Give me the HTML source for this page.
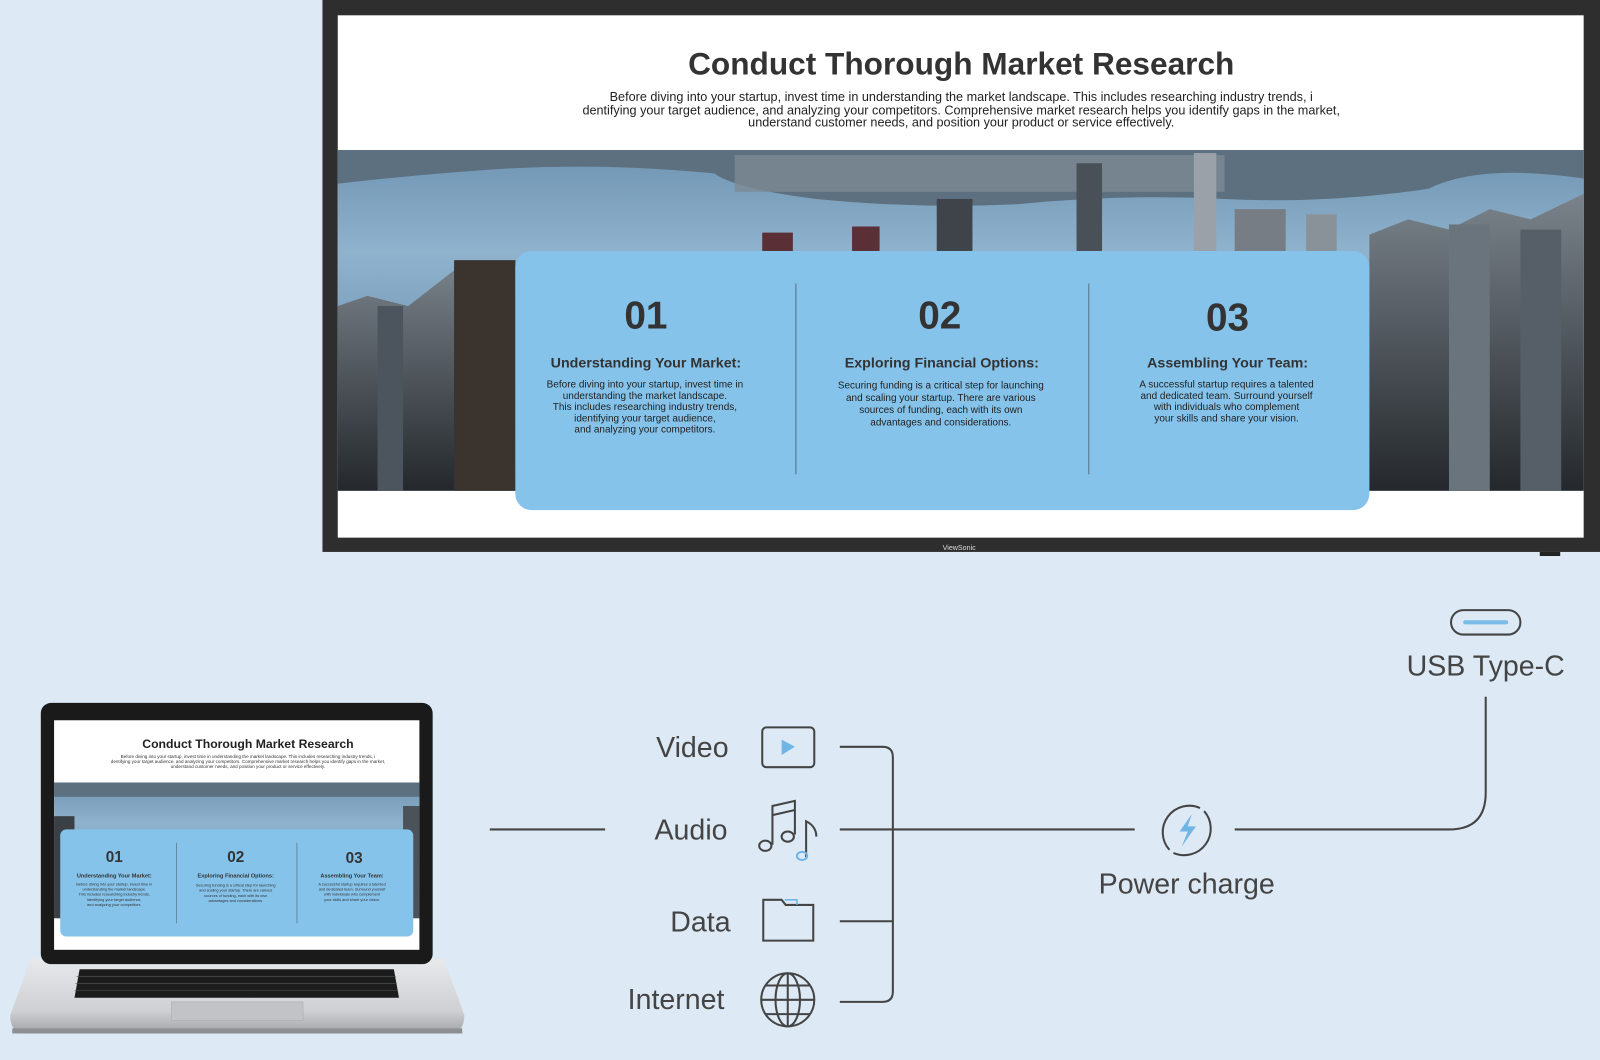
<!DOCTYPE html>
<html><head><meta charset="utf-8"><style>
html,body{margin:0;padding:0;background:#dde9f4;}
svg{display:block}
text{font-family:"Liberation Sans",sans-serif;}
</style></head><body>
<svg width="1600" height="1060" viewBox="0 0 1568 1039" preserveAspectRatio="none" xmlns="http://www.w3.org/2000/svg">
<defs>
<linearGradient id="water" x1="0" y1="0" x2="0" y2="1">
<stop offset="0" stop-color="#6f94b2"/><stop offset="0.3" stop-color="#8fb3cd"/><stop offset="0.7" stop-color="#6e92ae"/><stop offset="1" stop-color="#4c6b84"/>
</linearGradient>
<linearGradient id="city" x1="0" y1="0" x2="0" y2="1">
<stop offset="0" stop-color="#7a838b"/><stop offset="1" stop-color="#24282c"/>
</linearGradient>
<linearGradient id="silver" x1="0" y1="0" x2="0" y2="1">
<stop offset="0" stop-color="#e8e9eb"/><stop offset="0.7" stop-color="#cfd0d3"/><stop offset="1" stop-color="#a2a3a6"/>
</linearGradient>
</defs>
<rect width="1568" height="1039" fill="#dde9f4"/>

<!-- Monitor -->
<rect x="316" y="0" width="1252" height="541" fill="#2e2e2e"/>
<rect x="331" y="15" width="1221" height="512" fill="#fff"/>
<rect x="331" y="147" width="1221" height="334" fill="url(#water)"/>
<!-- far shore -->
<path d="M331 147 H1552 V175 Q1450 160 1400 185 Q1300 200 1200 195 Q1100 190 1000 200 Q900 205 800 195 Q720 185 700 170 Q600 160 500 165 Q420 170 331 180 Z" fill="#5d707f"/>
<rect x="720" y="152" width="480" height="36" fill="#7d8a93" opacity="0.8"/>
<rect x="1055" y="160" width="25" height="86" fill="#4a5058"/>
<rect x="1170" y="150" width="22" height="96" fill="#9aa1a8"/>
<rect x="1210" y="205" width="50" height="41" fill="#767d84"/>
<rect x="1280" y="210" width="30" height="36" fill="#8a9299"/>
<rect x="918" y="195" width="35" height="51" fill="#3e444a"/>
<rect x="747" y="228" width="30" height="18" fill="#5a3036"/>
<rect x="835" y="222" width="27" height="24" fill="#5a3036"/>
<!-- buildings left -->
<path d="M331 300 L360 290 L400 300 L445 265 L505 255 V481 H331 Z" fill="url(#city)"/>
<rect x="445" y="255" width="60" height="226" fill="#3a332e"/>
<rect x="370" y="300" width="25" height="181" fill="#4c555d"/>
<!-- buildings right -->
<path d="M1342 230 L1380 215 L1420 225 L1460 205 L1500 215 L1552 190 V481 H1342 Z" fill="url(#city)"/>
<rect x="1420" y="220" width="40" height="261" fill="#6a747d"/>
<rect x="1490" y="225" width="40" height="256" fill="#565f68"/>
<!-- blue panel -->
<rect x="505" y="246" width="837" height="254" rx="16" fill="#85c3ea"/>
<line x1="780" y1="278" x2="780" y2="465" stroke="#5e7d92" stroke-width="1.2"/>
<line x1="1067" y1="278" x2="1067" y2="465" stroke="#5e7d92" stroke-width="1.2"/>

<text x="942" y="73" font-size="31" font-weight="bold" fill="#333" text-anchor="middle">Conduct Thorough Market Research</text>
<g font-size="12.4" fill="#222" text-anchor="middle">
<text x="942" y="99">Before diving into your startup, invest time in understanding the market landscape. This includes researching industry trends, i</text>
<text x="942" y="112">dentifying your target audience, and analyzing your competitors. Comprehensive market research helps you identify gaps in the market,</text>
<text x="942" y="124">understand customer needs, and position your product or service effectively.</text>
</g>
<g fill="#333" text-anchor="middle" font-weight="bold">
<text x="633" y="322" font-size="38">01</text>
<text x="921" y="322" font-size="38">02</text>
<text x="1203" y="324" font-size="38">03</text>
<text x="633" y="360" font-size="14">Understanding Your Market:</text>
<text x="923" y="360" font-size="14">Exploring Financial Options:</text>
<text x="1203" y="360" font-size="14">Assembling Your Team:</text>
</g>
<g font-size="9.8" fill="#222" text-anchor="middle">
<text x="632" y="380">Before diving into your startup, invest time in</text>
<text x="632" y="391">understanding the market landscape.</text>
<text x="632" y="402">This includes researching industry trends,</text>
<text x="632" y="413">identifying your target audience,</text>
<text x="632" y="424">and analyzing your competitors.</text>
<text x="922" y="381">Securing funding is a critical step for launching</text>
<text x="922" y="393">and scaling your startup. There are various</text>
<text x="922" y="405">sources of funding, each with its own</text>
<text x="922" y="417">advantages and considerations.</text>
<text x="1202" y="380">A successful startup requires a talented</text>
<text x="1202" y="391">and dedicated team. Surround yourself</text>
<text x="1202" y="402">with individuals who complement</text>
<text x="1202" y="413">your skills and share your vision.</text>
</g>
<text x="940" y="539" font-size="7" fill="#ddd" text-anchor="middle" font-family="Liberation Serif,serif">ViewSonic</text>
<rect x="1509" y="541" width="20" height="4" fill="#222"/>

<!-- Laptop -->
<path d="M30 940 H435 L455 995 Q455 1013 440 1013 H25 Q10 1013 10 995 Z" fill="url(#silver)"/>
<rect x="40" y="689" width="384" height="256" rx="10" fill="#1a1a1a"/>
<rect x="53" y="706" width="358" height="225" fill="#fff"/>
<rect x="53" y="767" width="358" height="133" fill="url(#water)"/>
<rect x="53" y="767" width="358" height="14" fill="#5d707f"/>
<rect x="53" y="800" width="20" height="100" fill="#3a4046"/>
<rect x="395" y="790" width="16" height="110" fill="#4a525a"/>
<rect x="59" y="813" width="346" height="105" rx="6" fill="#85c3ea"/>
<line x1="173" y1="826" x2="173" y2="905" stroke="#5e7d92" stroke-width="0.8"/>
<line x1="291" y1="826" x2="291" y2="905" stroke="#5e7d92" stroke-width="0.8"/>
<text x="243" y="733" font-size="12" font-weight="bold" fill="#222" text-anchor="middle">Conduct Thorough Market Research</text>
<g font-size="4.5" fill="#333" text-anchor="middle">
<text x="243" y="743">Before diving into your startup, invest time in understanding the market landscape. This includes researching industry trends, i</text>
<text x="243" y="748">dentifying your target audience, and analyzing your competitors. Comprehensive market research helps you identify gaps in the market,</text>
<text x="243" y="753">understand customer needs, and position your product or service effectively.</text>
</g>
<g font-weight="bold" fill="#333" text-anchor="middle">
<text x="112" y="845" font-size="15">01</text>
<text x="231" y="845" font-size="15">02</text>
<text x="347" y="846" font-size="15">03</text>
<text x="112" y="860" font-size="5.5">Understanding Your Market:</text>
<text x="231" y="860" font-size="5.5">Exploring Financial Options:</text>
<text x="345" y="860" font-size="5.5">Assembling Your Team:</text>
</g>
<g font-size="3.8" fill="#333" text-anchor="middle">
<text x="112" y="868">Before diving into your startup, invest time in</text>
<text x="112" y="873">understanding the market landscape.</text>
<text x="112" y="878">This includes researching industry trends,</text>
<text x="112" y="883">identifying your target audience,</text>
<text x="112" y="888">and analyzing your competitors.</text>
<text x="231" y="869">Securing funding is a critical step for launching</text>
<text x="231" y="874">and scaling your startup. There are various</text>
<text x="231" y="879">sources of funding, each with its own</text>
<text x="231" y="884">advantages and considerations.</text>
<text x="345" y="868">A successful startup requires a talented</text>
<text x="345" y="873">and dedicated team. Surround yourself</text>
<text x="345" y="878">with individuals who complement</text>
<text x="345" y="883">your skills and share your vision.</text>
</g>
<path d="M78 950 H386 L391 978 H73 Z" fill="#1c1c1c"/>
<g stroke="#555" stroke-width="0.6">
<line x1="75" y1="957" x2="388" y2="957"/><line x1="74" y1="964" x2="389" y2="964"/><line x1="73" y1="971" x2="390" y2="971"/>
</g>
<rect x="168" y="982" width="129" height="18" fill="#c2c3c6" stroke="#aaa" stroke-width="0.5"/>
<rect x="12" y="1008" width="441" height="5" fill="#8e8f92"/>

<!-- Connectors -->
<g stroke="#444" stroke-width="2" fill="none">
<line x1="480" y1="813" x2="593" y2="813"/>
<path d="M823 732 H865 Q875 732 875 742 V972 Q875 982 865 982 H823"/>
<line x1="823" y1="903" x2="875" y2="903"/>
<line x1="823" y1="813" x2="1112" y2="813"/>
<path d="M1210 813 H1420 Q1456 813 1456 777 V683"/>
</g>
<g font-size="28" fill="#444" text-anchor="end">
<text x="714" y="742">Video</text>
<text x="713" y="823">Audio</text>
<text x="716" y="913">Data</text>
<text x="710" y="989">Internet</text>
</g>
<text x="1163" y="876" font-size="28" fill="#444" text-anchor="middle">Power charge</text>
<text x="1456" y="662" font-size="28" fill="#444" text-anchor="middle">USB Type-C</text>

<!-- icons -->
<rect x="747" y="713" width="51" height="39" rx="4" fill="none" stroke="#444" stroke-width="2"/>
<path d="M766 725 L779 732 L766 740 Z" fill="#6fb5e6"/>
<g fill="none" stroke="#444" stroke-width="2">
<path d="M757 828 V790 L779 785 V818"/>
<line x1="757" y1="799" x2="779" y2="794"/>
<ellipse cx="750" cy="829" rx="6" ry="5"/>
<ellipse cx="772" cy="820" rx="6" ry="5"/>
<path d="M790 840 V805 Q800 810 800 820"/>
</g>
<ellipse cx="786" cy="839" rx="5" ry="4" fill="none" stroke="#6fb5e6" stroke-width="2"/>
<path d="M748 882 H766 L770 887 H797 V922 H748 Z" fill="none" stroke="#444" stroke-width="2"/>
<path d="M769 882 H781 V887" fill="none" stroke="#6fb5e6" stroke-width="1.5"/>
<g fill="none" stroke="#444" stroke-width="2">
<circle cx="772" cy="980" r="26"/>
<ellipse cx="772" cy="980" rx="12" ry="26"/>
<line x1="772" y1="954" x2="772" y2="1006"/>
<line x1="746" y1="980" x2="798" y2="980"/>
<path d="M750 966 H794 M750 994 H794"/>
</g>
<g fill="none" stroke="#444" stroke-width="2">
<path d="M1180 795 A26 26 0 0 1 1150 836"/>
<path d="M1146 833 A26 26 0 0 1 1176 792"/>
</g>
<path d="M1168 798 L1156 815 L1164 815 L1158 830 L1172 810 L1164 810 Z" fill="#6fb5e6"/>
<rect x="1422" y="598" width="68" height="24" rx="12" fill="none" stroke="#444" stroke-width="2"/>
<line x1="1436" y1="610" x2="1476" y2="610" stroke="#7bbde8" stroke-width="4" stroke-linecap="round"/>
</svg>
</body></html>
